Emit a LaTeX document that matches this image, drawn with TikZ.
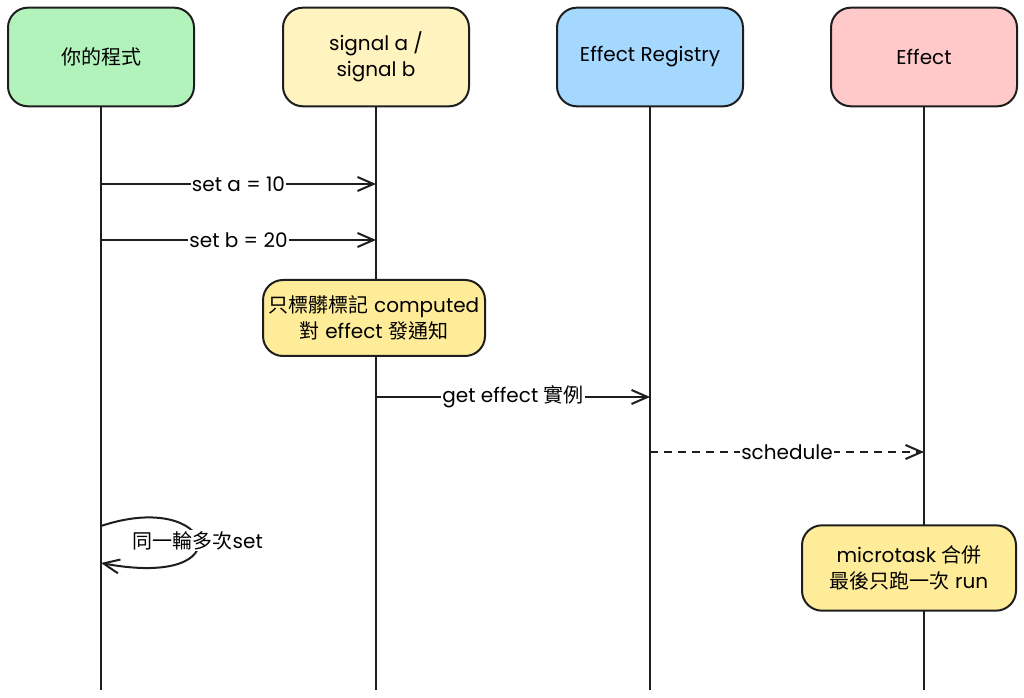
\documentclass[tikz,border=0pt]{standalone}
\usepackage{fontspec}
\setmainfont{Poppins}
\newfontfamily\cjk{Noto Sans CJK TC}
\usetikzlibrary{arrows.meta}

\definecolor{ink}{HTML}{1E1E1E}
\definecolor{appfill}{HTML}{B2F2BB}
\definecolor{sigfill}{HTML}{FFF3BF}
\definecolor{regfill}{HTML}{A5D8FF}
\definecolor{efffill}{HTML}{FFC9C9}
\definecolor{notefill}{HTML}{FFEC99}

\tikzset{
  actor/.style={draw=ink, line width=1.5pt, rounded corners=15pt,
    minimum width=139.5pt, minimum height=74pt, align=center,
    font=\fontsize{15}{19.5}\selectfont},
  notebox/.style={draw=ink, line width=1.5pt, rounded corners=15pt,
    fill=notefill, align=center, font=\fontsize{15}{20}\selectfont},
  life/.style={draw=ink, line width=1.5pt},
  msg/.style={draw=ink, line width=1.5pt,
    -{Straight Barb[length=12pt,width=10.5pt,line width=1.5pt]}},
  async/.style={msg, dash pattern=on 6pt off 4.5pt},
  lbl/.style={fill=white, inner sep=1pt, font=\fontsize{15}{18}\selectfont},
}

\begin{document}
\begin{tikzpicture}[x=0.75pt, y=-0.75pt]

\fill[white] (0,0) rectangle (1024,698);
\useasboundingbox (0,0) rectangle (1024,698);

% participants
\node[actor, fill=appfill] (app) at (101,57) {\cjk 你的程式};
\node[actor, fill=sigfill] (sig) at (376,57) {signal a /\\signal b};
\node[actor, fill=regfill] (reg) at (650,57) {Effect Registry};
\node[actor, fill=efffill] (eff) at (924,57) {Effect};

% lifelines
\coordinate (appEnd) at (101,690);
\coordinate (sigEnd) at (376,690);
\coordinate (regEnd) at (650,690);
\coordinate (effEnd) at (924,690);
\draw[life] (app) -- (appEnd);
\draw[life] (sig) -- (sigEnd);
\draw[life] (reg) -- (regEnd);
\draw[life] (eff) -- (effEnd);

% messages
\draw[msg] (app |- 0,184) -- node[lbl] {set a = 10} (sig |- 0,184);
\draw[msg] (app |- 0,240) -- node[lbl] {set b = 20} (sig |- 0,240);

\node[notebox, minimum width=166.5pt, minimum height=57pt] (mark) at (374,318)
  {{\cjk 只標髒標記} computed\\{\cjk 對} effect {\cjk 發通知}};

\draw[msg] (sig |- 0,397) -- node[lbl] {get effect {\cjk 實例}} (reg |- 0,397);
\draw[async] (reg |- 0,452) -- node[lbl] {schedule} (eff |- 0,452);

% self loop
\draw[msg] (app |- 0,526) .. controls (215,488) and (245,590) .. (app |- 0,563)
  node[lbl, pos=0.5] {{\cjk 同一輪多次}set};

\node[notebox, minimum width=160.5pt, minimum height=64pt] (batch) at (909,568)
  {microtask {\cjk 合併}\\{\cjk 最後只跑一次} run};

\end{tikzpicture}
\end{document}
